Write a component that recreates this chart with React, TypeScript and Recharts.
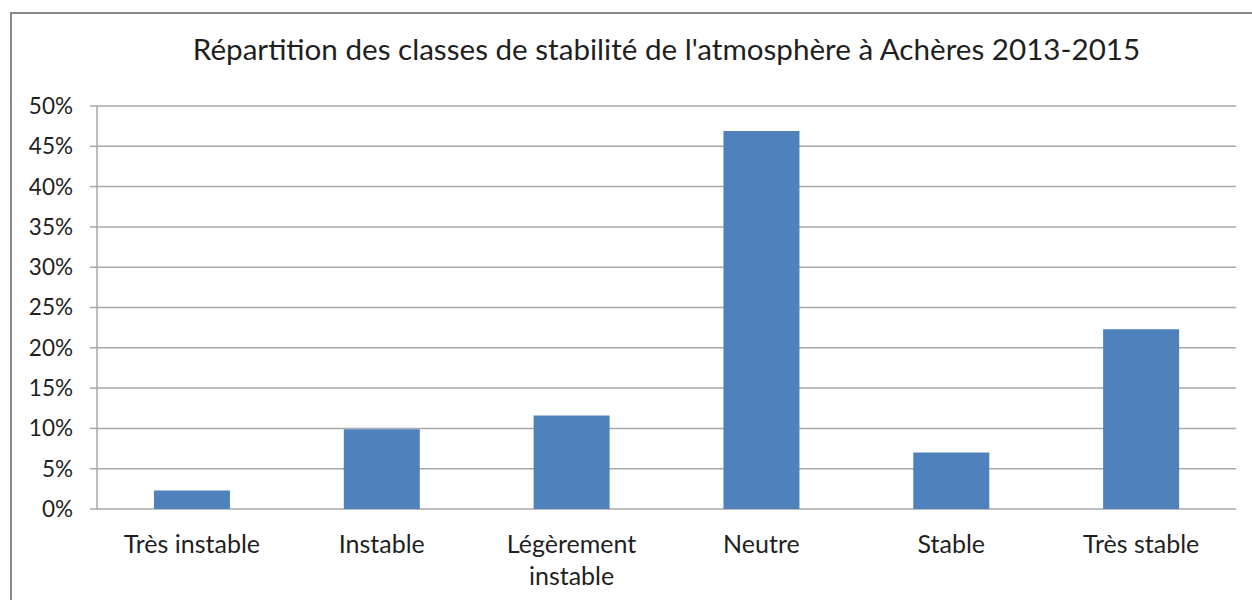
import React from "react"
import {
  Bar,
  BarChart,
  CartesianGrid,
  XAxis,
  YAxis,
} from "recharts"

const categories = [
  "Très instable",
  "Instable",
  "Légèrement instable",
  "Neutre",
  "Stable",
  "Très stable",
]
const shares = [2.3, 9.9, 11.6, 46.9, 7.0, 22.3]
const yTicks = [0, 5, 10, 15, 20, 25, 30, 35, 40, 45, 50]
const edgeTicks = [0, 1, 2, 3, 4, 5, 6]

const title = "Répartition des classes de stabilité de l'atmosphère à Achères 2013-2015"

const data = categories.map((name, i) => ({ name, value: shares[i], edge: i }))

const FONT = "Lato, 'Open Sans', sans-serif"
const GRAY = "#a9a9a9"
const INK = "#1f1f1f"

// long labels break onto two lines, like Excel does when they don't fit the band
function splitLabel(label: string): string[] {
  if (label.length <= 14) return [label]
  const cut = label.lastIndexOf(" ")
  return [label.slice(0, cut), label.slice(cut + 1)]
}

function CategoryTick(props: any) {
  const { x, y, payload } = props
  const lines = splitLabel(String(payload.value))
  return (
    <text
      x={x}
      y={y + 36}
      textAnchor="middle"
      style={{ fontFamily: FONT, fontSize: 25, fill: INK }}
    >
      {lines.map((line, i) => (
        <tspan key={i} x={x} dy={i === 0 ? 0 : 32}>
          {line}
        </tspan>
      ))}
    </text>
  )
}

export default function App() {
  return (
    <div
      style={{
        position: "absolute",
        left: 0,
        top: 0,
        width: 1252,
        height: 600,
        overflow: "hidden",
        background: "#fff",
      }}
    >
      <div
        style={{
          position: "absolute",
          left: 10,
          top: 12,
          width: 1270,
          height: 620,
          border: "2px solid #8a8a8a",
        }}
      />
      <div
        style={{
          position: "absolute",
          left: 97,
          width: 1139,
          top: 31,
          textAlign: "center",
          fontFamily: FONT,
          fontSize: 29.6,
          color: INK,
          whiteSpace: "nowrap",
        }}
      >
        {title}
      </div>
      <div style={{ position: "absolute", left: 0, top: 0 }}>
        <BarChart
          width={1252}
          height={600}
          data={data}
          margin={{ top: 106, right: 16, bottom: 0, left: 0 }}
          barCategoryGap="30%"
        >
          <CartesianGrid vertical={false} stroke={GRAY} strokeWidth={1.5} />
          <XAxis
            xAxisId="edge"
            type="number"
            dataKey="edge"
            domain={[0, 6]}
            ticks={edgeTicks}
            height={0}
            tickSize={8}
            tickFormatter={() => ""}
            axisLine={{ stroke: GRAY, strokeWidth: 1.5 }}
            tickLine={{ stroke: GRAY, strokeWidth: 1.5 }}
          />
          <XAxis
            xAxisId="cat"
            dataKey="name"
            height={91}
            axisLine={false}
            tickLine={false}
            interval={0}
            tick={<CategoryTick />}
          />
          <YAxis
            width={97}
            domain={[0, 50]}
            ticks={yTicks}
            tickSize={7}
            tickMargin={17}
            tickFormatter={(v: number) => `${v}%`}
            axisLine={{ stroke: GRAY, strokeWidth: 1.5 }}
            tickLine={{ stroke: GRAY, strokeWidth: 1.5 }}
            tick={{ fontFamily: FONT, fontSize: 22.5, fill: INK }}
          />
          <Bar
            xAxisId="cat"
            dataKey="value"
            fill="#4f81bd"
            isAnimationActive={false}
          />
        </BarChart>
      </div>
    </div>
  )
}
